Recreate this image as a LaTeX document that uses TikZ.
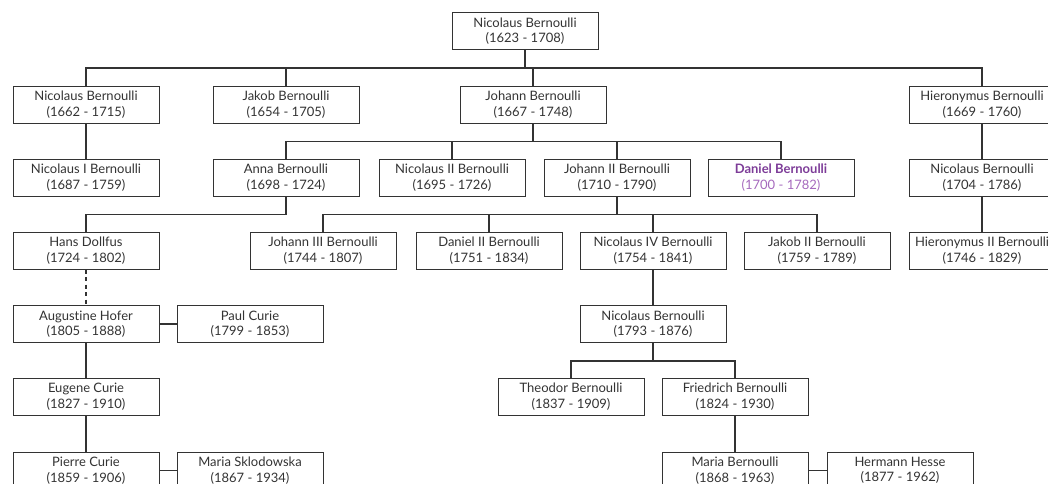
\documentclass[tikz,border=0pt]{standalone}
\usepackage{fontspec}
\setmainfont{Lato}[Ligatures=NoCommon]
\definecolor{linegray}{HTML}{333333}
\definecolor{danielpurple}{HTML}{7D3C98}
\definecolor{datepurple}{HTML}{A569BD}
\begin{document}
\begin{tikzpicture}[
		x=1pt, y=-1pt,
		person/.style={rectangle, draw=linegray, line width=1pt, minimum width=146pt,
				minimum height=37pt, inner sep=0pt, align=center,
				font=\fontsize{13}{15.5}\selectfont, text=linegray},
		link/.style={draw=linegray, line width=1.3pt},
		highlight/.style={text=danielpurple}
	]
	\useasboundingbox (0,0) rectangle (1048,483);

	% generation 0
	\node[person] (root) at (525,31) {Nicolaus Bernoulli\\(1623 - 1708)};

	% generation 1
	\node[person] (nicolaus) at (86,104.5) {Nicolaus Bernoulli\\(1662 - 1715)};
	\node[person] (jakob) at (286,104.5) {Jakob Bernoulli\\(1654 - 1705)};
	\node[person] (johann) at (533,104.5) {Johann Bernoulli\\(1667 - 1748)};
	\node[person] (hieronymus) at (982,104.5) {Hieronymus Bernoulli\\(1669 - 1760)};

	% generation 2
	\node[person] (nicolausI) at (86,177.5) {Nicolaus I Bernoulli\\(1687 - 1759)};
	\node[person] (anna) at (286,177.5) {Anna Bernoulli\\(1698 - 1724)};
	\node[person] (nicolausII) at (452,177.5) {Nicolaus II Bernoulli\\(1695 - 1726)};
	\node[person] (johannII) at (617,177.5) {Johann II Bernoulli\\(1710 - 1790)};
	\node[person, highlight] (daniel) at (781,177.5) {\textbf{Daniel Bernoulli}\\\textcolor{datepurple}{(1700 - 1782)}};
	\node[person] (nicolausH) at (982,177.5) {Nicolaus Bernoulli\\(1704 - 1786)};

	% generation 3
	\node[person] (hans) at (86,250.5) {Hans Dollfus\\(1724 - 1802)};
	\node[person] (johannIII) at (323,250.5) {Johann III Bernoulli\\(1744 - 1807)};
	\node[person] (danielII) at (489,250.5) {Daniel II Bernoulli\\(1751 - 1834)};
	\node[person] (nicolausIV) at (653,250.5) {Nicolaus IV Bernoulli\\(1754 - 1841)};
	\node[person] (jakobII) at (817,250.5) {Jakob II Bernoulli\\(1759 - 1789)};
	\node[person] (hieronymusII) at (982,250.5) {Hieronymus II Bernoulli\\(1746 - 1829)};

	% generation 4
	\node[person] (augustine) at (86,324) {Augustine Hofer\\(1805 - 1888)};
	\node[person] (paul) at (250,324) {Paul Curie\\(1799 - 1853)};
	\node[person] (nicolausN) at (653,324) {Nicolaus Bernoulli\\(1793 - 1876)};

	% generation 5
	\node[person] (eugene) at (86,396.5) {Eugene Curie\\(1827 - 1910)};
	\node[person] (theodor) at (571,396.5) {Theodor Bernoulli\\(1837 - 1909)};
	\node[person] (friedrich) at (735,396.5) {Friedrich Bernoulli\\(1824 - 1930)};

	% generation 6
	\node[person] (pierre) at (86,470.5) {Pierre Curie\\(1859 - 1906)};
	\node[person] (maria) at (250,470.5) {Maria Sklodowska\\(1867 - 1934)};
	\node[person] (mariaB) at (735,470.5) {Maria Bernoulli\\(1868 - 1963)};
	\node[person] (hesse) at (900,470.5) {Hermann Hesse\\(1877 - 1962)};

	% parent -> children
	\foreach \p/\c in {root/nicolaus, root/jakob, root/johann, root/hieronymus,
			johann/anna, johann/nicolausII, johann/johannII, johann/daniel,
			anna/hans,
			johannII/johannIII, johannII/danielII, johannII/nicolausIV, johannII/jakobII,
			nicolausN/theodor, nicolausN/friedrich}
		\draw[link] (\p.south) -- ++(0,18) -| (\c.north);

	\foreach \p/\c in {nicolaus/nicolausI, hieronymus/nicolausH, nicolausH/hieronymusII,
			nicolausIV/nicolausN, augustine/eugene, eugene/pierre, friedrich/mariaB}
		\draw[link] (\p) -- (\c);

	\draw[link, dash pattern=on 4pt off 3.5pt] (hans) -- (augustine);

	% couples
	\draw[link] (augustine) -- (paul);
	\draw[link] (pierre) -- (maria);
	\draw[link] (mariaB) -- (hesse);
\end{tikzpicture}
\end{document}
